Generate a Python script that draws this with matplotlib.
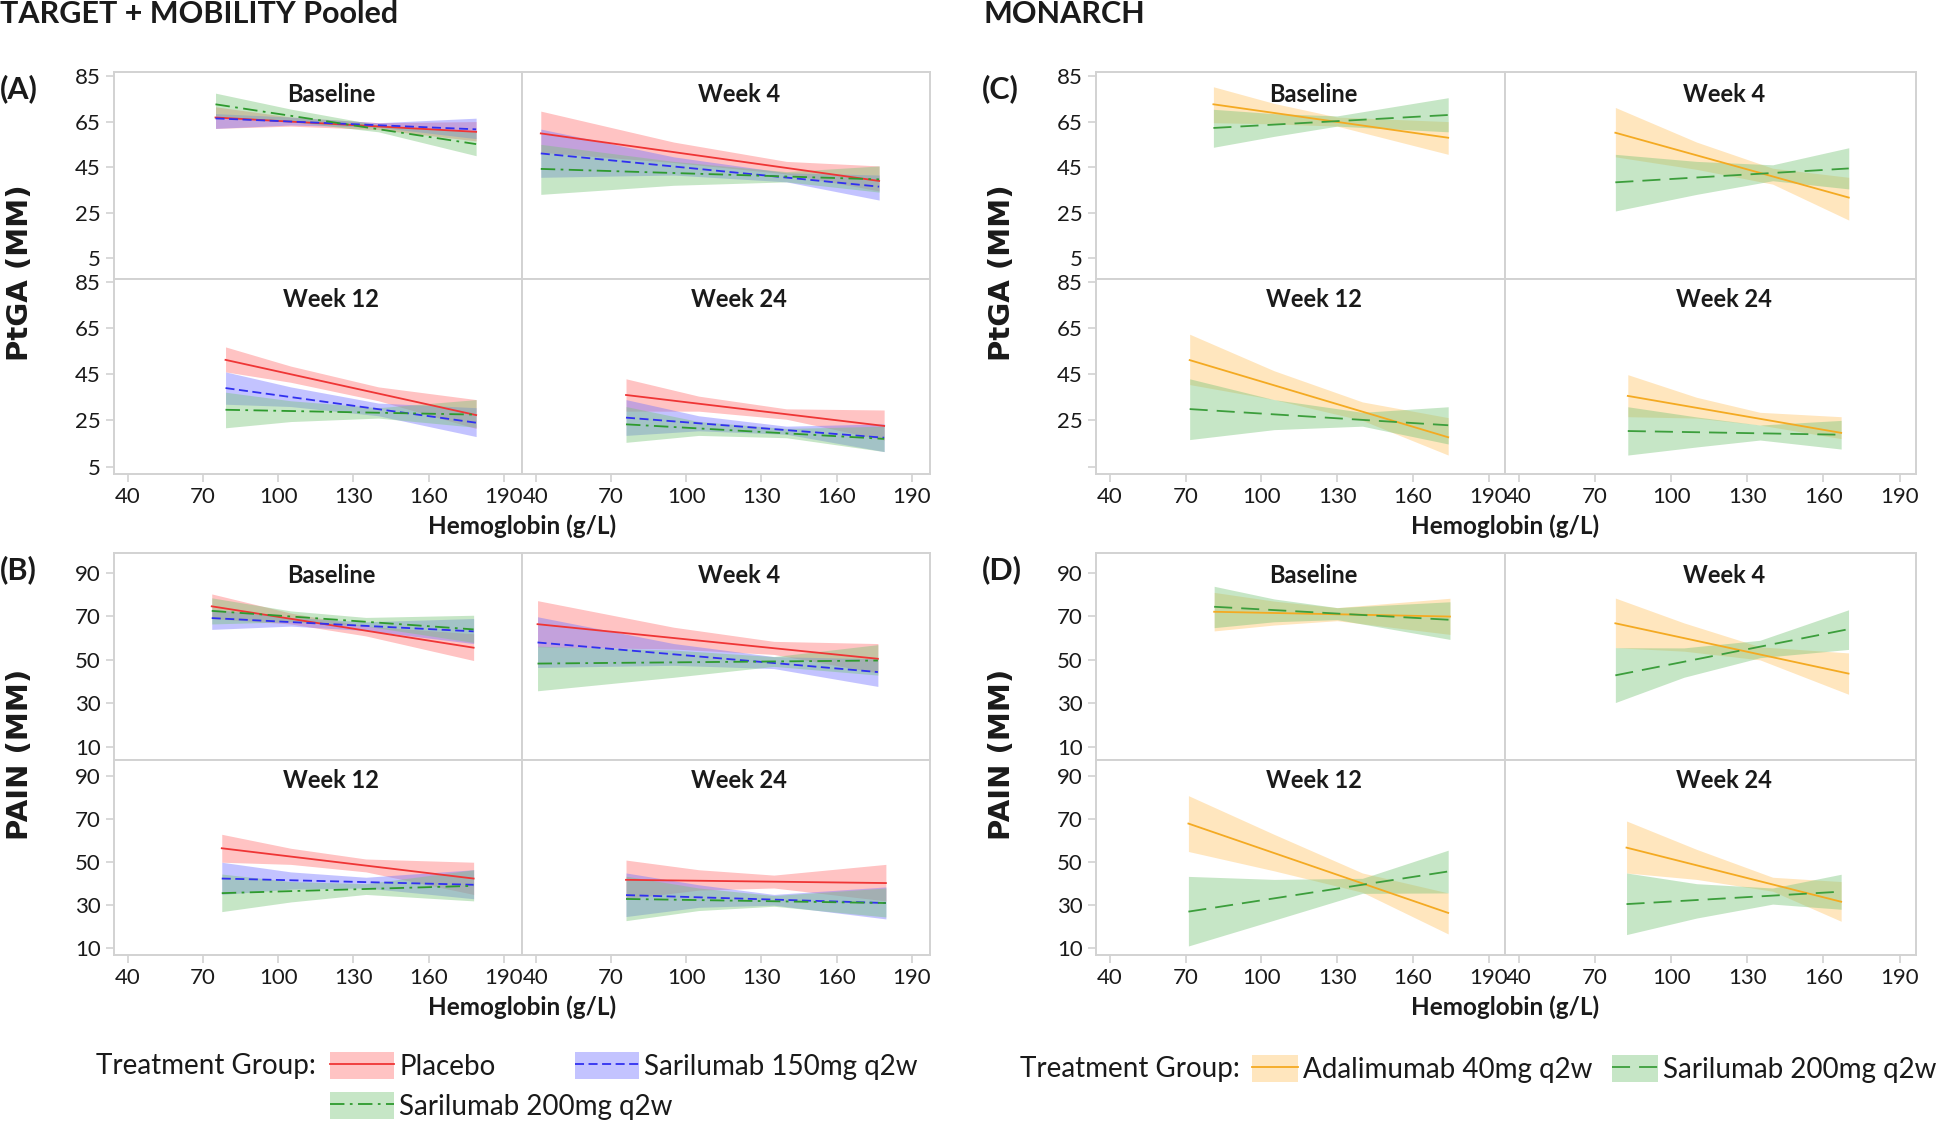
"""Hemoglobin vs PtGA / PAIN by visit, pooled trials and MONARCH."""

import matplotlib

matplotlib.use("Agg")
import matplotlib.pyplot as plt
from matplotlib.lines import Line2D
from matplotlib.patches import Patch

plt.rcParams["font.family"] = ["Lato", "DejaVu Sans"]

W, H = 1944, 1122

WEEKS = ["Baseline", "Week 4", "Week 12", "Week 24"]
X_TICKS = [40, 70, 100, 130, 160, 190]
PTGA_TICKS = [5, 25, 45, 65, 85]
PAIN_TICKS = [10, 30, 50, 70, 90]

# (A) PtGA, TARGET + MOBILITY pooled  -- x knots per visit, shared by series
A_X = [[75, 105, 140, 179], [42, 95, 140, 177], [79, 105, 140, 179], [76, 105, 140, 179]]
A_PLACEBO_LINE = [[66.8, 60.5], [59.8, 38.9], [51.2, 27.3], [36.0, 22.6]]
A_PLACEBO_LO = [[62, 63, 61.5, 56.5], [51.5, 47, 42, 34.5], [46, 41.5, 33.5, 21.5], [29, 29, 25.5, 16.5]]
A_PLACEBO_HI = [[71.5, 67, 64.5, 65], [69.6, 56, 47.5, 45.5], [56.8, 48.5, 39.5, 34], [43, 35.5, 30, 29.5]]
A_SAR150_LINE = [[66.4, 61.6], [51.0, 36.4], [39.0, 24.0], [26.2, 17.5]]
A_SAR150_LO = [[62, 63.5, 62.5, 57.5], [40.5, 41.5, 38.5, 30.5], [32, 31, 27, 18], [18.5, 20.5, 19, 11.5]]
A_SAR150_HI = [[68.5, 67, 64.5, 66.5], [61.7, 49.5, 42.5, 41.5], [46, 39.5, 32.5, 30.5], [34, 27, 22.5, 23.5]]
A_SAR200_LINE = [[72.6, 55.1], [44.2, 39.6], [29.6, 27.5], [23.3, 17.0]]
A_SAR200_LO = [[67.5, 65, 60.5, 50], [33, 37, 38.5, 34], [21.8, 24.5, 26, 22], [15.5, 18.5, 17.5, 11.5]]
A_SAR200_HI = [[77.5, 70.5, 63.5, 60.5], [55, 47.5, 43, 45.5], [37.2, 33.5, 30.5, 34], [31, 24.5, 21.5, 22.5]]

# (B) PAIN, TARGET + MOBILITY pooled
B_X = [[73.5, 105, 135, 178], [40.7, 95, 135, 176.5], [77.5, 105, 135, 178], [76, 105, 135, 179.7]]
B_PLACEBO_LINE = [[74.6, 55.6], [66.4, 50.5], [56.5, 42.4], [41.8, 40.3]]
B_PLACEBO_LO = [[69, 66.5, 61, 49.7], [56, 55, 52.5, 44], [50, 49, 45.5, 35], [33, 37, 38, 32]]
B_PLACEBO_HI = [[80.3, 71.5, 65.5, 62], [77.2, 65, 58.5, 57.5], [63, 56.5, 51.5, 50], [51, 46.5, 44, 49]]
B_SAR150_LINE = [[69.2, 63.1], [58.0, 44.4], [42.4, 39.5], [34.7, 31.0]]
B_SAR150_LO = [[64, 65.5, 63.5, 57.5], [46.5, 47.5, 46, 37.8], [35, 37.5, 38, 33], [24.7, 29, 30, 23.6]]
B_SAR150_HI = [[73.3, 69.5, 67.5, 69], [69.8, 57.5, 51.5, 50.5], [50, 45.5, 43, 46.5], [45, 39.5, 35, 38.5]]
B_SAR200_LINE = [[72.5, 64.0], [48.3, 49.7], [35.6, 39.0], [32.9, 31.0]]
B_SAR200_LO = [[66.5, 67.5, 65.5, 58], [35.8, 42, 47, 43], [27, 31.5, 35, 32], [22.8, 27.5, 29.5, 24.5]]
B_SAR200_HI = [[78.5, 72.5, 69.5, 70.5], [56.3, 54.5, 51.5, 57], [44.5, 41, 40, 46.5], [43.5, 38, 34.5, 38]]

# (C) PtGA, MONARCH
C_X = [[81, 105, 130, 174], [78, 110, 140, 170], [71.6, 105, 140, 174], [82.9, 110, 135, 167]]
C_ADA_LINE = [[72.6, 57.9], [60.1, 31.6], [51.1, 17.7], [35.6, 19.6]]
C_ADA_LO = [[64.5, 64, 63, 50.6], [49.5, 44, 37.5, 21.7], [40.5, 34, 25, 10], [26.6, 26, 23, 17.1]]
C_ADA_HI = [[80.3, 73, 67, 65], [71.2, 56, 44.5, 40.5], [62.3, 46.5, 33, 26.2], [44.8, 35, 28.5, 26.6]]
C_SAR200_LINE = [[62.2, 67.9], [38.3, 44.4], [29.9, 22.9], [20.4, 18.8]]
C_SAR200_LO = [[53.7, 58.5, 63, 60.5], [25.7, 33, 39, 35.4], [16.7, 21, 22.5, 14.8], [10, 13.5, 16.5, 12.6]]
C_SAR200_HI = [[70.4, 68.5, 67.5, 75.5], [50.6, 47.5, 46, 53.5], [43, 34, 28.5, 30.9], [30.9, 26.5, 23, 25]]

# (D) PAIN, MONARCH
D_X = [[81.3, 105, 130, 174.7], [78, 105, 135, 169.9], [71.1, 105, 140, 174], [82.4, 110, 140, 167]]
D_ADA_LINE = [[72.1, 69.9], [66.8, 43.7], [68.0, 26.4], [56.8, 31.6]]
D_ADA_LO = [[63.3, 66, 68, 61.7], [55.6, 54, 50, 34.2], [55, 46, 36, 16.6], [45, 42, 36.5, 22.5]]
D_ADA_HI = [[81, 77, 74, 78.3], [78.4, 67, 56, 53.2], [81, 63, 45, 35.7], [69.2, 56, 43, 41]]
D_SAR200_LINE = [[74.4, 68.4], [42.9, 64.1], [27.0, 45.7], [30.5, 36.3]]
D_SAR200_LO = [[64.8, 67.5, 68.5, 59.4], [30.4, 42, 51, 54.8], [11, 23, 35.5, 35.7], [16.3, 24, 30.5, 28.1]]
D_SAR200_HI = [[83.8, 78, 74, 76.7], [55.6, 55.5, 59, 73], [43.4, 42, 42.5, 55.6], [45, 40, 38, 44.4]]

BAND_ALPHA = 0.42
STYLES = {
    "Placebo": dict(line="#ef3535", band="#ff7070", ls="-"),
    "Sarilumab 150mg q2w": dict(line="#3030f0", band="#7272ff", ls=(0, (5, 2.5))),
    "Sarilumab 200mg q2w": dict(line="#2e9a2e", band="#78c478", ls=(0, (8, 3, 1.5, 3))),
    "Adalimumab 40mg q2w": dict(line="#f4aa22", band="#ffc466", ls="-"),
    "Sarilumab 200mg q2w ": dict(line="#3c9e3c", band="#78c478", ls=(0, (10, 5))),
}

GROUPS = [
    dict(tag="(A)", ylabel="PtGA (MM)", cols=(114, 522, 930), rows=(72, 279, 474),
         ylims=[(-4.2, 86.8), (1.8, 86.2)], yticks=PTGA_TICKS, xlim=(34.5, 197.3), knots=A_X,
         series=[("Placebo", A_PLACEBO_LINE, A_PLACEBO_LO, A_PLACEBO_HI),
                 ("Sarilumab 150mg q2w", A_SAR150_LINE, A_SAR150_LO, A_SAR150_HI),
                 ("Sarilumab 200mg q2w", A_SAR200_LINE, A_SAR200_LO, A_SAR200_HI)]),
    dict(tag="(B)", ylabel="PAIN (MM)", cols=(114, 522, 930), rows=(553, 760, 955),
         ylims=[(4.0, 99.1), (6.8, 97.6)], yticks=PAIN_TICKS, xlim=(34.5, 197.3), knots=B_X,
         series=[("Placebo", B_PLACEBO_LINE, B_PLACEBO_LO, B_PLACEBO_HI),
                 ("Sarilumab 150mg q2w", B_SAR150_LINE, B_SAR150_LO, B_SAR150_HI),
                 ("Sarilumab 200mg q2w", B_SAR200_LINE, B_SAR200_LO, B_SAR200_HI)]),
    dict(tag="(C)", ylabel="PtGA (MM)", cols=(1096, 1505, 1916), rows=(72, 279, 474),
         ylims=[(-4.2, 86.8), (1.8, 86.2)], yticks=PTGA_TICKS, xlim=(34.5, 196.5), knots=C_X,
         lower_blank=True,
         series=[("Adalimumab 40mg q2w", C_ADA_LINE, C_ADA_LO, C_ADA_HI),
                 ("Sarilumab 200mg q2w ", C_SAR200_LINE, C_SAR200_LO, C_SAR200_HI)]),
    dict(tag="(D)", ylabel="PAIN (MM)", cols=(1096, 1505, 1916), rows=(553, 760, 955),
         ylims=[(4.0, 99.1), (6.8, 97.6)], yticks=PAIN_TICKS, xlim=(34.5, 196.5), knots=D_X,
         series=[("Adalimumab 40mg q2w", D_ADA_LINE, D_ADA_LO, D_ADA_HI),
                 ("Sarilumab 200mg q2w ", D_SAR200_LINE, D_SAR200_LO, D_SAR200_HI)]),
]

GRID = "#d2d2d2"
TEXT = "#1a1a1a"

fig = plt.figure(figsize=(W / 100, H / 100), dpi=100)


def px_axes(left, top, right, bottom):
    return fig.add_axes([left / W, 1 - bottom / H, (right - left) / W, (bottom - top) / H])


def draw_group(g):
    c0, c1, c2 = g["cols"]
    r0, r1, r2 = g["rows"]
    boxes = [(c0, r0, c1, r1), (c1, r0, c2, r1), (c0, r1, c1, r2), (c1, r1, c2, r2)]
    for k, (l, t, r, b) in enumerate(boxes):
        ax = px_axes(l, t, r, b)
        row, col = divmod(k, 2)
        xs = g["knots"][k]
        for name, line, lo, hi in g["series"]:
            st = STYLES[name]
            ax.fill_between(xs, lo[k], hi[k], color=st["band"], alpha=BAND_ALPHA, lw=0)
        for name, line, lo, hi in g["series"]:
            st = STYLES[name]
            ax.plot([xs[0], xs[-1]], line[k], color=st["line"], ls=st["ls"], lw=1.3)
        ax.set_xlim(*g["xlim"])
        ax.set_ylim(*g["ylims"][row])
        for sp in ax.spines.values():
            sp.set_color(GRID)
            sp.set_linewidth(1.4)
        ax.tick_params(colors=GRID, labelcolor=TEXT, labelsize=16, length=6, width=1.2)
        if col == 0:
            ax.set_yticks(g["yticks"])
            labels = [str(v) for v in g["yticks"]]
            if row == 1 and g.get("lower_blank"):
                labels[0] = ""
            ax.set_yticklabels(labels)
        else:
            ax.set_yticks([])
        if row == 1:
            ax.set_xticks(X_TICKS)
        else:
            ax.set_xticks([])
        ax.text(0.532, 0.89 if row == 0 else 0.895, WEEKS[k], transform=ax.transAxes,
                ha="center", va="center", fontsize=17, fontweight="bold", color=TEXT)

    mid_y = 1 - (r0 + r2) / 2 / H
    fig.text((c0 - 94) / W, mid_y, g["ylabel"], rotation=90, ha="center", va="center",
             fontsize=21, fontweight="bold", family=["DejaVu Sans"], color=TEXT)
    fig.text((c0 - 114) / W, 1 - (r0 + 17) / H, g["tag"], ha="left", va="center",
             fontsize=22, fontweight="bold", color=TEXT)
    fig.text(c1 / W, 1 - (r2 + 52) / H, "Hemoglobin (g/L)", ha="center", va="center",
             fontsize=17.5, fontweight="bold", color=TEXT)


for grp in GROUPS:
    draw_group(grp)

fig.text(0, 1 - 14 / H, "TARGET + MOBILITY Pooled", ha="left", va="center",
         fontsize=22, fontweight="bold", color=TEXT)
fig.text(983 / W, 1 - 14 / H, "MONARCH", ha="left", va="center",
         fontsize=22, fontweight="bold", color=TEXT)


def legend_entry(name, x, y, length):
    st = STYLES[name]
    h = (Patch(facecolor=st["band"], alpha=BAND_ALPHA, lw=0),
         Line2D([], [], color=st["line"], ls=st["ls"], lw=1.3))
    leg = fig.legend([h], [name.strip()], loc="center left", bbox_to_anchor=(x / W, 1 - y / H),
                     frameon=False, fontsize=20, handlelength=length, handleheight=1.15,
                     borderpad=0, borderaxespad=0, handletextpad=0.2)
    for t in leg.get_texts():
        t.set_color(TEXT)


fig.text(96 / W, 1 - 1066 / H, "Treatment Group:", ha="left", va="center", fontsize=20, color=TEXT)
legend_entry("Placebo", 330, 1066, 2.3)
legend_entry("Sarilumab 150mg q2w", 575, 1066, 2.3)
legend_entry("Sarilumab 200mg q2w", 330, 1106, 2.3)

fig.text(1020 / W, 1 - 1069 / H, "Treatment Group:", ha="left", va="center", fontsize=20, color=TEXT)
legend_entry("Adalimumab 40mg q2w", 1252, 1069, 1.65)
legend_entry("Sarilumab 200mg q2w ", 1612, 1069, 1.65)

fig.savefig("out.png", dpi=100)
